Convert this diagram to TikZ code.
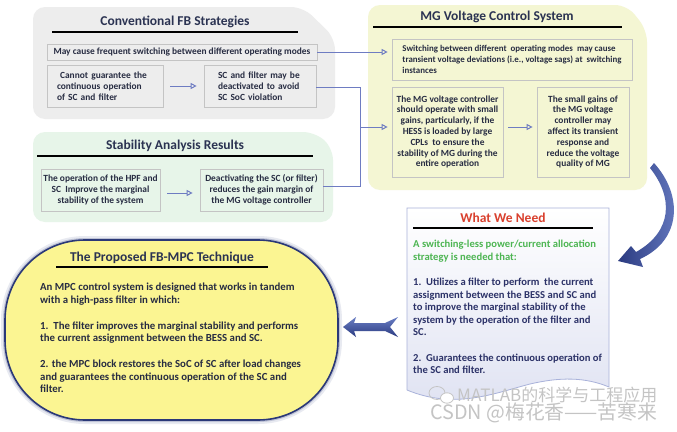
\documentclass[tikz,border=0pt]{standalone}
\usepackage{fontspec}
\setmainfont{Carlito}
\newfontfamily\cjkfont{Noto Sans CJK SC}
\usetikzlibrary{arrows.meta}
\definecolor{cfbg}{HTML}{EDEDED}
\definecolor{mgbg}{HTML}{F4F6D3}
\definecolor{sabg}{HTML}{E7F5E9}
\definecolor{propbg}{HTML}{FBF592}
\definecolor{propbd}{HTML}{2A3878}
\definecolor{cellbd}{HTML}{C4C4C4}
\definecolor{ttl}{HTML}{2B3352}
\definecolor{txt}{HTML}{272C42}
\definecolor{conn}{HTML}{6E7CC2}
\definecolor{wwred}{HTML}{D9402E}
\definecolor{wwgreen}{HTML}{4DB552}
\definecolor{wwnavy}{HTML}{2C3268}
\definecolor{wwbd}{HTML}{A9B2DA}
\definecolor{wwbot}{HTML}{DFE2F2}
\definecolor{arrdark}{HTML}{2A3A80}
\definecolor{arrlight}{HTML}{6A7EC4}
\definecolor{wm}{HTML}{C4C4C4}
\begin{document}
\begin{tikzpicture}[x=1pt,y=-1pt,
  cell/.style={draw=cellbd, line width=0.7pt, inner sep=0pt, text=txt,
    font=\bfseries\fontsize{9.4}{10.8}\selectfont},
  ttlstyle/.style={text=ttl, font=\bfseries\fontsize{13.5}{15}\selectfont, inner sep=0pt},
  uline/.style={line width=1.6pt, black},
  link/.style={draw=conn, line width=1pt},
  linkarrow/.style={link, -{Triangle[open, length=6pt, width=6pt]}},
  bodytext/.style={inner sep=0pt, align=left, anchor=north west},
]
\useasboundingbox[fill=white] (0,0) rectangle (677,431);

% ---------- Conventional FB Strategies ----------
\fill[cfbg, rounded corners=12pt] (33,119) -- (33,7) -- (303,7) -- (335,38) -- (335,119) -- cycle;
\node[ttlstyle] (cft) at (175,22) {Conventional FB Strategies};
\draw[uline] (52,32) -- (298,32);
\node[cell, minimum width=270pt, minimum height=16pt, align=center] (c1) at (182,52)
  {May cause frequent switching between different operating modes};
\node[cell, minimum width=116pt, minimum height=42pt, text width=96pt, align=left] (c2) at (105,86)
  {\ Cannot guarantee the\\continuous operation\\of SC and filter};
\node[cell, minimum width=112pt, minimum height=42pt, text width=84pt, align=left] (c3) at (260,86)
  {SC and filter may be\\deactivated to avoid\\SC SoC violation};
\draw[linkarrow, shorten <=7pt, shorten >=7pt] (c2) -- (c3);

% ---------- MG Voltage Control System ----------
\fill[mgbg, rounded corners=12pt] (368,190) -- (368,5) -- (627,5) -- (647,30) -- (647,190) -- cycle;
\node[ttlstyle] (mgt) at (497,17) {MG Voltage Control System};
\draw[uline] (373,27) -- (622,27);
\node[cell, minimum width=240pt, minimum height=41pt, align=left, font=\bfseries\fontsize{8.9}{10.6}\selectfont] (m1) at (512,59.5)
  {Switching between different\ \ operating modes\ \ may cause\\transient voltage deviations (i.e., voltage sags) at\ \ switching\\instances};
\node[cell, minimum width=111pt, minimum height=90pt, align=center] (m2) at (447.5,132)
  {The MG voltage controller\\should operate with small\\gains, particularly, if the\\HESS is loaded by large\\CPLs\ \ to ensure the\\stability of MG during the\\entire operation};
\node[cell, minimum width=92pt, minimum height=90pt, align=center] (m3) at (583,132)
  {The small gains of\\the MG voltage\\controller may\\affect its transient\\response and\\reduce the voltage\\quality of MG};
\draw[linkarrow, shorten <=5pt, shorten >=4pt] (m2.east |- 0,127) -- (m3.west |- 0,127);

% ---------- Stability Analysis Results ----------
\fill[sabg, rounded corners=12pt] (33,222) -- (33,132) -- (315,132) -- (333,148) -- (333,222) -- cycle;
\node[ttlstyle] (sat) at (175,146) {Stability Analysis Results};
\draw[uline] (37,156) -- (313,156);
\node[cell, minimum width=119pt, minimum height=42pt, align=center] (s1) at (100.5,190)
  {The operation of the HPF and\\SC\ \ Improve the marginal\\stability of the system};
\node[cell, minimum width=123pt, minimum height=42pt, align=center] (s2) at (261.5,190)
  {Deactivating the SC (or filter)\\reduces the gain margin of\\the MG voltage controller};
\draw[linkarrow, shorten <=7pt, shorten >=7pt] (s1.east |- 0,193) -- (s2.west |- 0,193);

% ---------- connectors between panels ----------
\coordinate (j1) at (360,87);
\coordinate (j2) at (360,186);
\coordinate (j3) at (360,127);
\draw[linkarrow, shorten >=4pt] (c1.east) -- (c1.east -| m1.west);
\draw[link] (c3.east |- j1) -- (j1) -- (j2) -- (s2.east |- j2);
\draw[linkarrow, shorten >=4pt] (j3) -- (j3 -| m2.west);

% ---------- The Proposed FB-MPC Technique ----------
\draw[draw=propbd!30, line width=8pt, opacity=0.35, rounded corners=80pt] (5,240) rectangle (338,420);
\draw[draw=propbd!50, line width=4pt, opacity=0.5, rounded corners=80pt] (5,240) rectangle (338,420);
\draw[fill=propbg, draw=propbd, line width=1.6pt, rounded corners=80pt] (5,240) rectangle (338,420);
\node[ttlstyle] (pt) at (162,258) {The Proposed FB-MPC Technique};
\draw[uline] (56,267) -- (268,267);
\node[bodytext, text=txt, font=\bfseries\fontsize{10.8}{12.75}\selectfont] (pb) at (40,283)
  {An MPC control system is designed that works in tandem\\
   with a high-pass filter in which:\\[12.75pt]
   1.\ \ The filter improves the marginal stability and performs\\
   the current assignment between the BESS and SC.\\[12.75pt]
   2. the MPC block restores the SoC of SC after load changes\\
   and guarantees the continuous operation of the SC and\\
   filter.};

% ---------- What We Need ----------
\shade[top color=white, bottom color=wwbot]
  (407,390) -- (407,208) -- (609,208) -- (609,387)
  .. controls (585,377) and (560,377) .. (530,384)
  .. controls (495,393) and (455,410) .. (407,390) -- cycle;
\draw[draw=wwbd, line width=0.8pt]
  (407,390) -- (407,208) -- (609,208) -- (609,387)
  .. controls (585,377) and (560,377) .. (530,384)
  .. controls (495,393) and (455,410) .. (407,390);
\node[inner sep=0pt, text=wwred, font=\bfseries\fontsize{13.5}{15}\selectfont] (wt) at (503,218) {What We Need};
\draw[uline] (413,228) -- (593,228);
\node[bodytext, font=\bfseries\fontsize{10.6}{12.6}\selectfont] (wb) at (413,240)
  {\textcolor{wwgreen}{A switching-less power/current allocation}\\
   \textcolor{wwgreen}{strategy is needed that:}\\[12.6pt]
   \textcolor{wwnavy}{1.\ \ Utilizes a filter to perform\ \ the current}\\
   \textcolor{wwnavy}{assignment between the BESS and SC and}\\
   \textcolor{wwnavy}{to improve the marginal stability of the}\\
   \textcolor{wwnavy}{system by the operation of the filter and}\\
   \textcolor{wwnavy}{SC.}\\[12.6pt]
   \textcolor{wwnavy}{2.\ \ Guarantees the continuous operation of}\\
   \textcolor{wwnavy}{the SC and filter.}};

% ---------- big arrows ----------
\shade[top color=arrlight, bottom color=arrdark]
  (343,327) -- (356,317) -- (354,323) -- (385,323) -- (398,317) -- (390,327)
  -- (398,337) -- (385,331) -- (354,331) -- (356,337) -- cycle;
\shade[left color=arrdark, right color=arrlight]
  (654,163) .. controls (683,195) and (682,240) .. (640,259)
  -- (643,267) -- (618,261) -- (631,246) -- (636,252)
  .. controls (672,232) and (674,198) .. (650,168) -- cycle;

% ---------- watermark ----------
\draw[wm, line width=0.8pt] (437,393) ellipse [x radius=8, y radius=6.5];
\draw[wm, line width=0.8pt, fill=white] (447,398) ellipse [x radius=6.5, y radius=5.2];
\node[inner sep=0pt, anchor=west, text=wm, font=\cjkfont\fontsize{17}{17}\selectfont] (wm1) at (457,395) {MATLAB的科学与工程应用};
\node[inner sep=0pt, anchor=west, text=wm, font=\cjkfont\fontsize{19.8}{19.8}\selectfont] (wm2) at (430,413) {CSDN @梅花香——苦寒来};
\end{tikzpicture}
\end{document}
